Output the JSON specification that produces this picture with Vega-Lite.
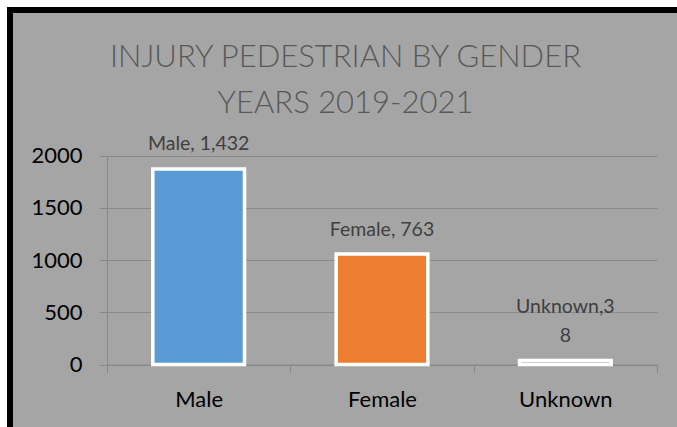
{
  "$schema": "https://vega.github.io/schema/vega-lite/v6.json",
  "width": 667,
  "height": 417,
  "autosize": {"type": "none"},
  "padding": {"left": 10, "top": 10, "right": 0, "bottom": 0},
  "background": "white",
  "view": {"fill": "#a5a5a5", "stroke": "black", "strokeWidth": 6, "strokeDash": [667, 1084, 417]},
  "config": {
    "font": "Lato"
  },
  "title": {
    "text": ["INJURY PEDESTRIAN BY GENDER", "YEARS 2019-2021"],
    "fontSize": 31,
    "fontWeight": 300,
    "color": "#595959",
    "font": "Lato",
    "lineHeight": 46,
    "anchor": "middle",
    "frame": "group",
    "offset": -141,
    "dx": 2,
    "baseline": "bottom"
  },
  "data": {
    "values": [
      {"gender": "Male", "value": 1873, "label_top": "", "label": "Male, 1,432"},
      {"gender": "Female", "value": 1058, "label_top": "", "label": "Female, 763"},
      {"gender": "Unknown", "value": 38, "label_top": "Unknown,3", "label": "8"}
    ]
  },
  "encoding": {
    "x": {
      "field": "gender",
      "type": "nominal",
      "sort": null,
      "scale": {"range": [97, 647], "paddingInner": 0, "paddingOuter": 0},
      "axis": {
        "title": null,
        "tickBand": "extent",
        "domainColor": "#898989",
        "tickColor": "#898989",
        "tickSize": 8,
        "labelFontSize": 22,
        "labelColor": "black",
        "labelPadding": 17,
        "labelAngle": 0,
        "offset": -62.5,
        "grid": false
      }
    },
    "y": {
      "field": "value",
      "type": "quantitative",
      "scale": {"domain": [0, 2000], "range": [354.5, 145.7], "nice": false},
      "axis": {
        "title": null,
        "values": [0, 500, 1000, 1500, 2000],
        "format": "d",
        "grid": true,
        "gridColor": "#898989",
        "domainColor": "#898989",
        "tickColor": "#898989",
        "tickSize": 8,
        "labelFontSize": 22,
        "labelColor": "black",
        "labelPadding": 17,
        "offset": -97
      }
    }
  },
  "layer": [
    {
      "mark": {"type": "bar", "width": {"band": 0.5}, "stroke": "white", "strokeWidth": 3.5},
      "encoding": {
        "color": {
          "field": "gender",
          "type": "nominal",
          "scale": {"domain": ["Male", "Female", "Unknown"], "range": ["#5B9BD5", "#ED7D31", "#A5A5A5"]},
          "legend": null
        }
      }
    },
    {
      "mark": {"type": "text", "baseline": "alphabetic", "dy": -18.5, "fontSize": 19.5, "color": "#404040"},
      "encoding": {"text": {"field": "label"}}
    },
    {
      "mark": {"type": "text", "baseline": "alphabetic", "dy": -48, "fontSize": 19.5, "color": "#404040"},
      "encoding": {"text": {"field": "label_top"}}
    }
  ]
}
